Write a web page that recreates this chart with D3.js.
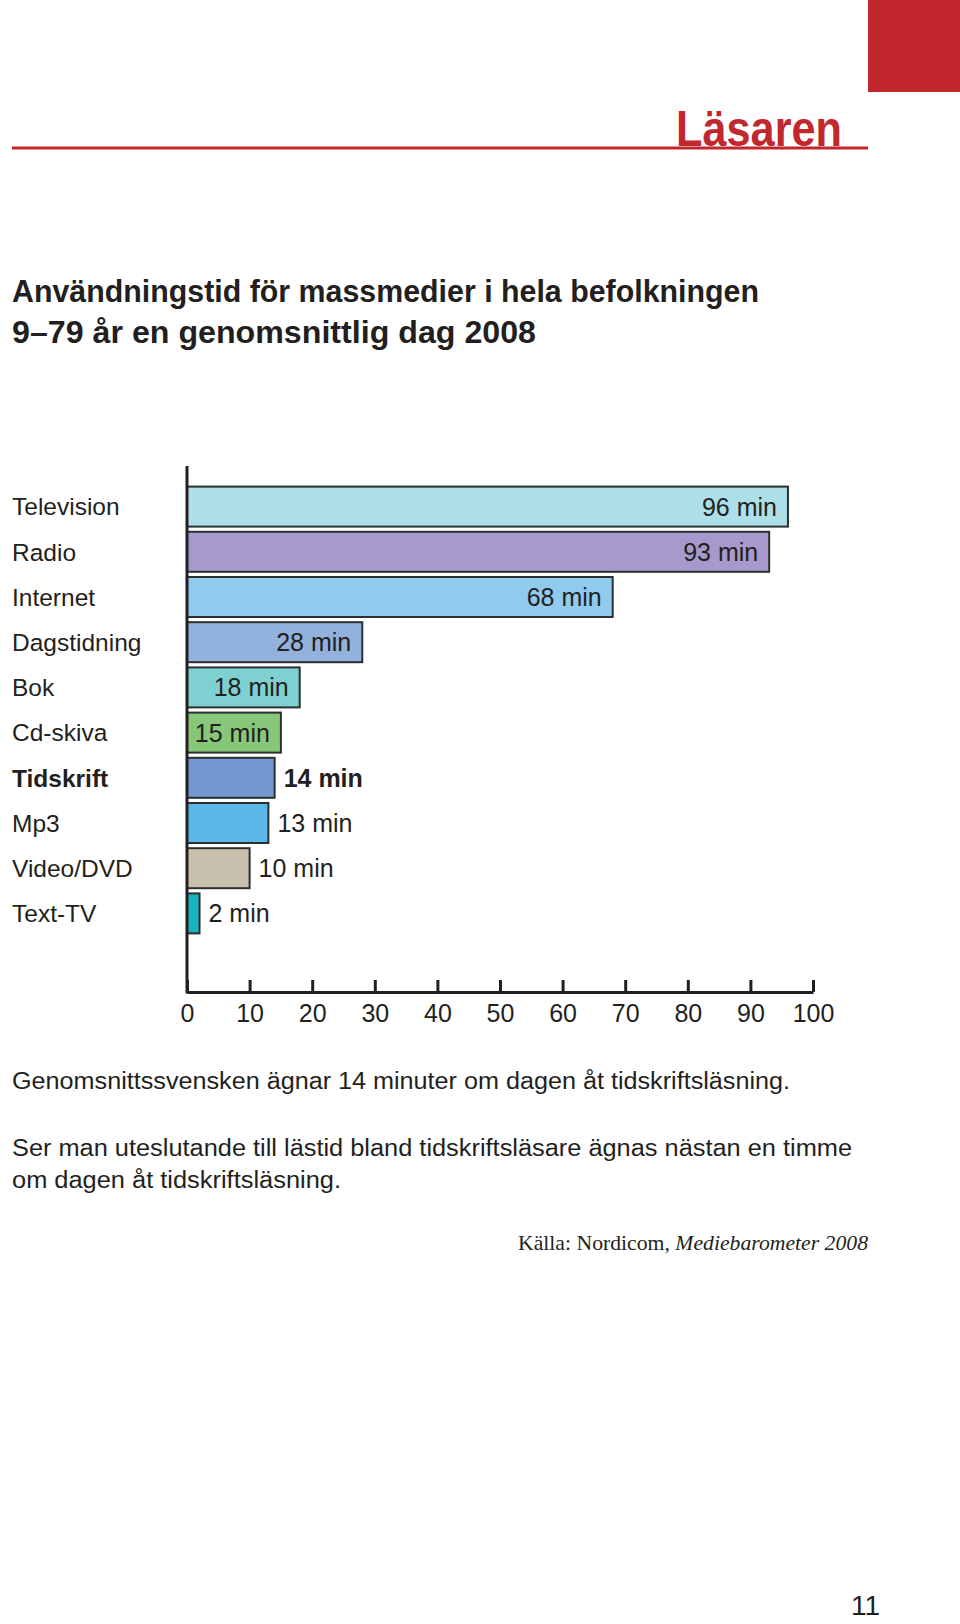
<!DOCTYPE html>
<html>
<head>
<meta charset="utf-8">
<script src="https://cdn.jsdelivr.net/npm/d3@7"></script>
<style>
  html, body { margin: 0; padding: 0; background: #fff; }
  svg { display: block; }
</style>
</head>
<body>
<svg id="chart" width="960" height="1624"></svg>
<script>
// ---- data ----
const categories = ["Television", "Radio", "Internet", "Dagstidning", "Bok", "Cd-skiva", "Tidskrift", "Mp3", "Video/DVD", "Text-TV"];
const minutes = [96, 93, 68, 28, 18, 15, 14, 13, 10, 2];
const barColors = ["#acdfe8", "#a59acb", "#90cbee", "#92b1dd", "#7fd0d0", "#86c77a", "#7497cf", "#5ab7ea", "#c8c0ad", "#17b5c0"];
const labelInside = [true, true, true, true, true, true, false, false, false, false];
const highlighted = "Tidskrift";
const xTicks = [0, 10, 20, 30, 40, 50, 60, 70, 80, 90, 100];
const titleLines = ["Användningstid för massmedier i hela befolkningen", "9–79 år en genomsnittlig dag 2008"];
const noteLines = [
  "Genomsnittssvensken ägnar 14 minuter om dagen åt tidskriftsläsning.",
  "Ser man uteslutande till lästid bland tidskriftsläsare ägnas nästan en timme",
  "om dagen åt tidskriftsläsning."
];
const sourcePlain = "Källa: Nordicom, ";
const sourceItalic = "Mediebarometer 2008";
const sectionName = "Läsaren";
const pageNumber = "11";

// ---- drawing ----
const svg = d3.select("#chart");
const ink = "#231f20";
const red = "#c1272d";
const sans = "'Liberation Sans', Arial, sans-serif";
const narrow = "'Liberation Sans Narrow', 'Liberation Sans', Arial, sans-serif";

// header
svg.append("rect").attr("x", 868).attr("y", 0).attr("width", 92).attr("height", 92).attr("fill", red);
svg.append("line").attr("x1", 12).attr("x2", 868).attr("y1", 148).attr("y2", 148)
  .attr("stroke", red).attr("stroke-width", 3);
svg.append("text").attr("x", 676).attr("y", 146)
  .attr("font-family", narrow).attr("font-weight", "bold").attr("font-size", 50)
  .attr("fill", red).attr("textLength", 166).attr("lengthAdjust", "spacingAndGlyphs")
  .text(sectionName);

// title
const titleWidths = [747, 524];
const titleY = [302, 343];
titleLines.forEach((t, i) => {
  svg.append("text").attr("x", 12).attr("y", titleY[i])
    .attr("font-family", narrow).attr("font-weight", "bold").attr("font-size", 31)
    .attr("fill", ink).attr("textLength", titleWidths[i]).attr("lengthAdjust", "spacingAndGlyphs")
    .text(t);
});

// scales
const x = d3.scaleLinear().domain([0, 100]).range([187, 813]);
const y = d3.scaleBand().domain(categories).range([484, 936]).paddingInner(0.115).paddingOuter(0.0575);
const axisY = 992;

const rows = categories.map((c, i) => ({ cat: c, v: minutes[i], color: barColors[i], inside: labelInside[i] }));

// bars
svg.append("g").selectAll("rect").data(rows).join("rect")
  .attr("x", x(0))
  .attr("y", d => y(d.cat))
  .attr("width", d => x(d.v) - x(0))
  .attr("height", y.bandwidth())
  .attr("fill", d => d.color)
  .attr("stroke", "#2b2f30")
  .attr("stroke-width", 2);

// category labels
svg.append("g").selectAll("text").data(rows).join("text")
  .attr("x", 12)
  .attr("y", d => y(d.cat) + y.bandwidth() / 2)
  .attr("dy", "0.36em")
  .attr("font-family", sans)
  .attr("font-size", 24.5)
  .attr("font-weight", d => d.cat === highlighted ? "bold" : "normal")
  .attr("fill", ink)
  .text(d => d.cat);

// value labels
svg.append("g").selectAll("text").data(rows).join("text")
  .attr("x", d => d.inside ? x(d.v) - 11 : x(d.v) + 9)
  .attr("y", d => y(d.cat) + y.bandwidth() / 2)
  .attr("dy", "0.36em")
  .attr("text-anchor", d => d.inside ? "end" : "start")
  .attr("font-family", sans)
  .attr("font-size", 25)
  .attr("font-weight", d => d.cat === highlighted ? "bold" : "normal")
  .attr("fill", ink)
  .text(d => d.v + " min");

// y axis line
svg.append("line").attr("x1", x(0)).attr("x2", x(0)).attr("y1", 466).attr("y2", axisY + 1.5)
  .attr("stroke", ink).attr("stroke-width", 3);

// x axis
const xAxis = d3.axisBottom(x).tickValues(xTicks).tickSizeInner(-12).tickSizeOuter(0).tickPadding(12)
  .tickFormat(d3.format("d"));
const gx = svg.append("g").attr("transform", `translate(0,${axisY})`).call(xAxis);
gx.select(".domain").attr("stroke", ink).attr("stroke-width", 3);
gx.selectAll(".tick line").attr("stroke", ink).attr("stroke-width", 3);
gx.selectAll(".tick text").attr("font-family", sans).attr("font-size", 25).attr("fill", ink);

// notes
const noteY = [1089, 1156, 1188];
const noteW = [778, 840, 329];
noteLines.forEach((t, i) => {
  svg.append("text").attr("x", 12).attr("y", noteY[i])
    .attr("font-family", sans).attr("font-size", 23).attr("fill", ink)
    .attr("textLength", noteW[i]).attr("lengthAdjust", "spacingAndGlyphs")
    .text(t);
});

// source
const src = svg.append("text").attr("x", 868).attr("y", 1250).attr("text-anchor", "end")
  .attr("font-family", "'Liberation Serif', 'Times New Roman', serif").attr("font-size", 22).attr("fill", ink)
  .attr("textLength", 350).attr("lengthAdjust", "spacingAndGlyphs");
src.append("tspan").text(sourcePlain);
src.append("tspan").attr("font-style", "italic").text(sourceItalic);

// page number
svg.append("text").attr("x", 851).attr("y", 1615)
  .attr("font-family", sans).attr("font-size", 28).attr("fill", ink).text(pageNumber);
</script>
</body>
</html>
